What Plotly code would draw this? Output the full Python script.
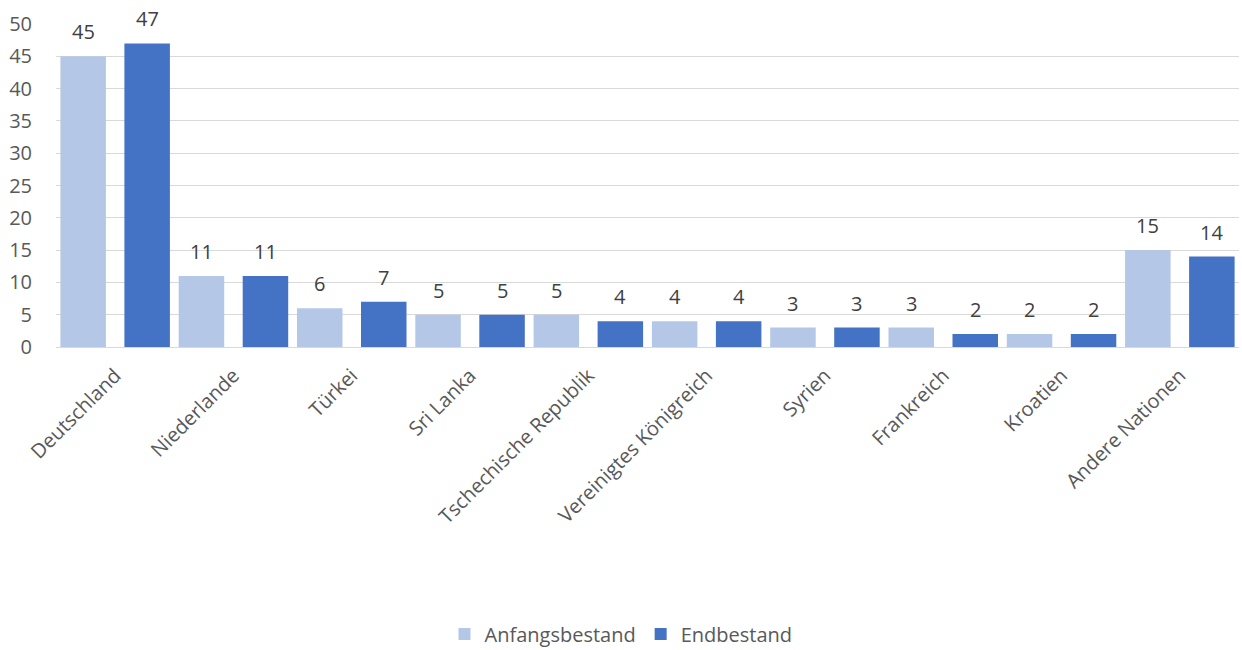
import plotly.graph_objects as go

categories = ["Deutschland", "Niederlande", "Türkei", "Sri Lanka", "Tschechische Republik",
              "Vereinigtes Königreich", "Syrien", "Frankreich", "Kroatien", "Andere Nationen"]
anfangsbestand = [45, 11, 6, 5, 5, 4, 3, 3, 2, 15]
endbestand = [47, 11, 7, 5, 4, 4, 3, 2, 2, 14]
y_ticks = [0, 5, 10, 15, 20, 25, 30, 35, 40, 45, 50]

FONT = "Open Sans"
FS = 20
W, H = 1242, 650
ML, MR, MT, MB = 56, 3, 24, 303
cat_px = (W - ML - MR) / len(categories)
plot_h = H - MT - MB
bar_w = 45.5 / cat_px
inner_gap = 18.5 / cat_px

fig = go.Figure()
series = [("Anfangsbestand", anfangsbestand, "#B4C7E7", -(bar_w + inner_gap / 2)),
          ("Endbestand", endbestand, "#4472C4", inner_gap / 2)]
for name, vals, col, off in series:
    fig.add_trace(go.Bar(
        x=categories, y=vals, name=name, marker_color=col,
        marker_line_width=0, width=bar_w, offset=off,
    ))

annotations = []
for name, vals, col, off in series:
    shift = (off + bar_w / 2) * cat_px
    for c, v in zip(categories, vals):
        annotations.append(dict(
            x=c, y=v, xref="x", yref="y", text=str(v), showarrow=False,
            xanchor="center", yanchor="bottom", xshift=shift, yshift=9,
            font=dict(family=FONT, size=FS, color="#404040"),
        ))

fig.update_layout(
    width=W, height=H,
    margin=dict(l=ML, r=MR, t=MT, b=MB, autoexpand=False),
    plot_bgcolor="white", paper_bgcolor="white",
    barmode="overlay",
    annotations=annotations,
    font=dict(family=FONT, size=FS, color="#595959"),
    legend=dict(orientation="h", xref="container", yref="paper",
                x=0.5, xanchor="center", y=-(634 - (H - MB)) / plot_h, yanchor="middle",
                font=dict(family=FONT, size=FS, color="#595959"),
                itemwidth=30, tracegroupgap=0),
    xaxis=dict(type="category", tickangle=-45, showline=True, linecolor="#d9d9d9",
               linewidth=1, showgrid=False, ticks="", automargin=False,
               ticklabelstandoff=8,
               tickfont=dict(family=FONT, size=FS, color="#595959")),
    yaxis=dict(range=[0, 50], tickvals=y_ticks, showgrid=True, gridcolor="#d9d9d9",
               gridwidth=1, zeroline=False, showline=False, ticks="", automargin=False,
               ticklabelstandoff=23,
               tickfont=dict(family=FONT, size=FS, color="#595959")),
)

fig.write_html("out.html", config={"displayModeBar": False},
               post_script="document.body.style.margin='0';document.body.style.overflow='hidden';")
